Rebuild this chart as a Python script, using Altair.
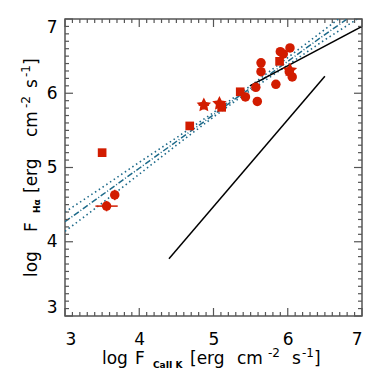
import altair as alt
import pandas as pd

FONT = "DejaVu Sans"
RED = "#d21c00"
BLUE = "#1d6a8a"
FRAME = "#555555"

# --- data ---
px = [3.50, 3.56, 3.67, 4.68, 4.87, 5.08, 5.11, 5.36, 5.43, 5.57, 5.59, 5.64, 5.64,
      5.84, 5.89, 5.90, 5.94, 6.03, 6.02, 6.03, 6.06]
py = [5.20, 4.48, 4.63, 5.56, 5.84, 5.86, 5.81, 6.02, 5.95, 6.08, 5.89, 6.41, 6.29,
      6.12, 6.43, 6.56, 6.53, 6.61, 6.29, 6.31, 6.22]
kind = ["square", "circle", "circle", "square", "star", "star", "square", "square", "circle",
        "circle", "circle", "circle", "circle", "circle", "square", "circle", "circle",
        "circle", "circle", "star", "circle"]
xerr = [0.02, 0.15, 0.02, 0.03, 0.07, 0.05, 0.02, 0.04, 0.02, 0.02, 0.02, 0.02, 0.02,
        0.02, 0.03, 0.02, 0.02, 0.02, 0.02, 0.05, 0.02]
yerr = [0.03, 0.07, 0.07, 0.05, 0.06, 0.06, 0.03, 0.04, 0.03, 0.04, 0.05, 0.03, 0.03,
        0.03, 0.04, 0.03, 0.03, 0.03, 0.03, 0.05, 0.04]

# fit line and confidence band
fx = [3.0, 3.5, 4.0, 4.5, 5.0, 5.3, 5.5, 6.0, 6.5, 7.0]
fy = [4.27, 4.63, 4.99, 5.35, 5.71, 5.93, 6.07, 6.43, 6.79, 7.14]
fup = [4.40, 4.73, 5.07, 5.40, 5.74, 5.96, 6.10, 6.48, 6.86, 7.24]
flo = [4.14, 4.52, 4.91, 5.30, 5.68, 5.90, 6.04, 6.38, 6.72, 7.04]

# black reference lines
l1x = [4.40, 6.50]
l1y = [3.77, 6.23]
l2x = [5.49, 7.00]
l2y = [6.10, 6.90]

major = [3, 4, 5, 6, 7]
minor = [round(3 + i / 10, 1) for i in range(1, 40) if i % 10 != 0]

W = H = 297
xs = alt.Scale(domain=[3, 7], nice=False, zero=False)
ys = alt.Scale(domain=[3, 7], nice=False, zero=False)

pts = pd.DataFrame({"x": px, "y": py, "kind": kind})
pts["xlo"] = [a - b for a, b in zip(px, xerr)]
pts["xhi"] = [a + b for a, b in zip(px, xerr)]
pts["ylo"] = [a - b for a, b in zip(py, yerr)]
pts["yhi"] = [a + b for a, b in zip(py, yerr)]

fit = pd.DataFrame({"x": fx, "y": fy, "up": fup, "lo": flo})
lines = pd.DataFrame({"x": l1x + l2x, "y": l1y + l2y, "g": ["a", "a", "b", "b"]})

X = alt.X("x:Q", scale=xs, axis=alt.Axis(values=major, ticks=False, domain=False, grid=False,
                                         labelFontSize=17, labelFont=FONT, labelPadding=15,
                                         labelColor="black", title=None, format="d"))
Y = alt.Y("y:Q", scale=ys, axis=alt.Axis(values=major, ticks=False, domain=False, grid=False,
                                         labelFontSize=17, labelFont=FONT, labelPadding=8,
                                         labelFlush=True, labelColor="black", title=None, format="d"))

base_fit = alt.Chart(fit)
fit_mid = base_fit.mark_line(color=BLUE, strokeWidth=1.5, strokeDash=[6, 2, 1, 2], clip=True).encode(x=X, y=Y)
fit_up = base_fit.mark_line(color=BLUE, strokeWidth=1.6, strokeDash=[1.5, 3], clip=True).encode(
    x=alt.X("x:Q", scale=xs), y=alt.Y("up:Q", scale=ys))
fit_lo = base_fit.mark_line(color=BLUE, strokeWidth=1.6, strokeDash=[1.5, 3], clip=True).encode(
    x=alt.X("x:Q", scale=xs), y=alt.Y("lo:Q", scale=ys))

blk = alt.Chart(lines).mark_line(color="black", strokeWidth=1.5, clip=True).encode(
    x=alt.X("x:Q", scale=xs), y=alt.Y("y:Q", scale=ys), detail="g:N")

base_p = alt.Chart(pts)
ex = base_p.mark_rule(color=RED, strokeWidth=1.5).encode(
    x=alt.X("xlo:Q", scale=xs), x2="xhi:Q", y=alt.Y("y:Q", scale=ys))
ey = base_p.mark_rule(color=RED, strokeWidth=1.5).encode(
    y=alt.Y("ylo:Q", scale=ys), y2="yhi:Q", x=alt.X("x:Q", scale=xs))

STAR = ("M0,-1L0.29,-0.4L0.95,-0.31L0.47,0.15L0.59,0.81L0,0.5L-0.59,0.81"
        "L-0.47,0.15L-0.95,-0.31L-0.29,-0.4Z")

def sym(k, shape, size):
    return base_p.transform_filter(alt.datum.kind == k).mark_point(
        filled=True, opacity=1, color=RED, shape=shape, size=size
    ).encode(x=alt.X("x:Q", scale=xs), y=alt.Y("y:Q", scale=ys))

points = [sym("circle", "circle", 90), sym("square", "square", 75), sym("star", STAR, 230)]

def ticks(vals, L):
    d = alt.Chart(pd.DataFrame({"v": vals}))
    c = dict(color=FRAME, strokeWidth=1.2)
    return [
        d.mark_rule(**c).encode(x=alt.X("v:Q", scale=xs), y=alt.value(H), y2=alt.value(H - L)),
        d.mark_rule(**c).encode(x=alt.X("v:Q", scale=xs), y=alt.value(0), y2=alt.value(L)),
        d.mark_rule(**c).encode(y=alt.Y("v:Q", scale=ys), x=alt.value(0), x2=alt.value(L)),
        d.mark_rule(**c).encode(y=alt.Y("v:Q", scale=ys), x=alt.value(W), x2=alt.value(W - L)),
    ]

def label(txt, x, y, size, angle=0, weight="normal"):
    return alt.Chart(alt.Data(values=[{"t": txt}])).mark_text(
        fontSize=size, font=FONT, align="left", baseline="alphabetic", angle=angle,
        color="black", fontWeight=weight
    ).encode(text="t:N", x=alt.value(x), y=alt.value(y))

# x title pieces (chart coords)
XB = 345
xt = [
    label("log", 37, XB, 17),
    label("F", 70, XB, 17),
    label("CaII K", 88, XB + 4, 9, weight="bold"),
    label("[erg", 125, XB, 17),
    label("cm", 172, XB, 17),
    label("-2", 203, XB - 7, 12),
    label("s", 227, XB, 17),
    label("-1", 237, XB - 7, 12),
    label("]", 249, XB, 17),
]
# y title pieces (rotated, chart coords)
YB = -28
yt = [
    label("log", YB, 258, 17, 270),
    label("F", YB, 213, 17, 270),
    label("H\u03b1", YB + 3, 194, 9, 270, "bold"),
    label("[erg", YB, 174, 17, 270),
    label("cm", YB, 118, 17, 270),
    label("-2", YB - 7, 89, 12, 270),
    label("s", YB, 69, 17, 270),
    label("-1", YB - 7, 58, 12, 270),
    label("]", YB, 46, 17, 270),
]

chart = alt.layer(
    fit_mid, fit_up, fit_lo, blk, ex, ey, *points,
    *ticks(major, 8), *ticks(minor, 4),
    *xt, *yt,
).properties(
    width=W, height=H,
    autosize=alt.AutoSizeParams(type="none"),
    padding={"left": 57, "top": 11, "right": 12, "bottom": 58},
).configure_view(stroke=FRAME, strokeWidth=1.5)

chart.save("out.html", embed_options={"renderer": "svg", "actions": False})
